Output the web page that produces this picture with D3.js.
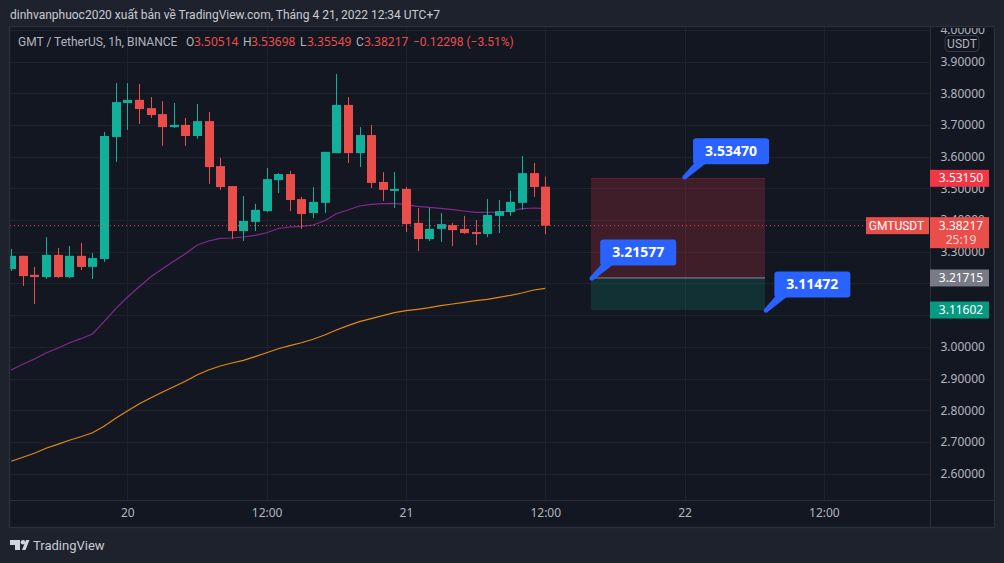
<!DOCTYPE html>
<html><head><meta charset="utf-8">
<script src="https://cdn.jsdelivr.net/npm/d3@7/dist/d3.min.js"></script>
<style>
html,body{margin:0;padding:0;background:#1e222d;overflow:hidden}
svg{display:block}
</style></head><body>
<svg id="c" width="1004" height="563" font-family='"Noto Sans",sans-serif'></svg>
<script>
const hours=[-10,-9,-8,-7,-6,-5,-4,-3,-2,-1,0,1,2,3,4,5,6,7,8,9,10,11,12,13,14,15,16,17,18,19,20,21,22,23,24,25,26,27,28,29,30,31,32,33,34,35,36];
const opens=[3.245,3.287,3.227,3.220,3.290,3.220,3.287,3.252,3.277,3.662,3.769,3.779,3.753,3.734,3.693,3.700,3.665,3.712,3.570,3.507,3.365,3.394,3.428,3.526,3.545,3.466,3.422,3.454,3.611,3.763,3.611,3.668,3.520,3.495,3.498,3.391,3.340,3.372,3.384,3.372,3.362,3.356,3.413,3.425,3.454,3.548,3.50514];
const highs=[3.309,3.287,3.252,3.346,3.312,3.318,3.328,3.296,3.678,3.832,3.832,3.829,3.788,3.775,3.769,3.722,3.766,3.741,3.596,3.507,3.476,3.451,3.564,3.548,3.555,3.473,3.504,3.615,3.861,3.788,3.693,3.700,3.551,3.551,3.504,3.438,3.438,3.422,3.391,3.413,3.400,3.466,3.463,3.492,3.602,3.580,3.53698];
const lows=[3.239,3.192,3.135,3.214,3.217,3.217,3.242,3.214,3.268,3.583,3.684,3.703,3.722,3.634,3.690,3.634,3.656,3.514,3.495,3.340,3.334,3.365,3.425,3.485,3.428,3.372,3.406,3.422,3.611,3.580,3.567,3.501,3.460,3.438,3.362,3.302,3.334,3.331,3.318,3.356,3.321,3.346,3.359,3.413,3.432,3.473,3.35549];
const closes=[3.287,3.223,3.220,3.290,3.220,3.287,3.252,3.280,3.665,3.772,3.779,3.750,3.731,3.693,3.700,3.665,3.712,3.567,3.504,3.365,3.397,3.432,3.529,3.545,3.463,3.419,3.457,3.615,3.763,3.611,3.668,3.517,3.495,3.498,3.387,3.340,3.372,3.387,3.368,3.359,3.356,3.416,3.428,3.457,3.548,3.504,3.38217];
const maFast=[2.9268,2.9448,2.9615,2.9804,2.9953,3.0120,3.0256,3.0404,3.0792,3.1202,3.1562,3.1886,3.2202,3.2454,3.2697,3.2937,3.3202,3.3338,3.3423,3.3432,3.3464,3.3517,3.3599,3.3732,3.3779,3.3801,3.3842,3.3978,3.4199,3.4315,3.4442,3.4495,3.4514,3.4527,3.4483,3.4432,3.4401,3.4369,3.4325,3.4284,3.4243,3.4243,3.4252,3.4284,3.4356,3.4379,3.4356];
const maSlow=[2.6388,2.6514,2.6640,2.6798,2.6924,2.7051,2.7164,2.7290,2.7492,2.7744,2.7975,2.8196,2.8385,2.8565,2.8741,2.8912,2.9110,2.9268,2.9394,2.9489,2.9574,2.9688,2.9814,2.9940,3.0035,3.0129,3.0237,3.0372,3.0530,3.0666,3.0792,3.0887,3.0981,3.1076,3.1139,3.1183,3.1234,3.1297,3.1350,3.1404,3.1454,3.1498,3.1562,3.1625,3.1697,3.1792,3.1846];
const priceTicks=[4.0,3.9,3.8,3.7,3.6,3.5,3.4,3.3,3.2,3.1,3.0,2.9,2.8,2.7,2.6];
const axisPriceTicks=[4.0,3.9,3.8,3.7,3.6,3.5,3.4,3.3,3.0,2.9,2.8,2.7,2.6];
const timeTicks=[0,12,24,36,48,60];
const timeLabels=["20","12:00","21","12:00","22","12:00"];
const lastPrice=3.38217, stopPrice=3.53150, entryPrice=3.21715, targetPrice=3.11602;
const callouts=[{h:48,p:3.53470,t:"3.53470"},{h:40,p:3.21577,t:"3.21577"},{h:55,p:3.11472,t:"3.11472"}];
const zoneStart=40, zoneEnd=55;
const headerText="dinhvanphuoc2020 xuất bản về TradingView.com, Tháng 4 21, 2022 12:34 UTC+7";

const L=10,R=930,T=27,B=500,FR=994,FB=527;
const TEAL="#10b09a",RED="#ea4e4a",GRID="#1e222c",BORDER="#2a2e39";
const x=d3.scaleLinear().domain([0,60]).range([127.3,823.9]);
const y=d3.scaleLinear().domain([3.9,2.6]).range([61.5,473.6]);
const svg=d3.select("#c");
const defs=svg.append("defs");
defs.append("clipPath").attr("id","plot").append("rect").attr("x",L).attr("y",T).attr("width",R-L).attr("height",B-T);
defs.append("clipPath").attr("id","axis").append("rect").attr("x",R).attr("y",T+1).attr("width",FR-R).attr("height",B-T);
svg.append("rect").attr("width",1004).attr("height",563).attr("fill","#1e222d");
svg.append("rect").attr("x",L).attr("y",T).attr("width",FR-L).attr("height",FB-T).attr("fill","#131722");

const plot=svg.append("g").attr("clip-path","url(#plot)");
plot.selectAll("line.h").data(priceTicks).join("line").attr("x1",L).attr("x2",R)
 .attr("y1",d=>Math.round(y(d))+.5).attr("y2",d=>Math.round(y(d))+.5).attr("stroke",GRID);
plot.selectAll("line.v").data(timeTicks).join("line").attr("y1",T).attr("y2",B)
 .attr("x1",d=>Math.round(x(d))+.5).attr("x2",d=>Math.round(x(d))+.5).attr("stroke",GRID);

// position tool zones
const zx0=Math.floor(x(zoneStart)), zx1=Math.floor(x(zoneEnd));
plot.append("rect").attr("x",zx0).attr("width",zx1-zx0)
 .attr("y",y(stopPrice)).attr("height",y(entryPrice)-y(stopPrice)).attr("fill","rgba(242,54,69,0.2)");
plot.append("line").attr("x1",zx0).attr("x2",zx1).attr("y1",y(stopPrice)).attr("y2",y(stopPrice)).attr("stroke","rgba(242,54,69,0.25)");
plot.append("rect").attr("x",zx0).attr("width",zx1-zx0)
 .attr("y",y(entryPrice)).attr("height",y(targetPrice)-y(entryPrice)).attr("fill","rgba(8,153,129,0.2)");
plot.append("line").attr("x1",zx0).attr("x2",zx1).attr("y1",y(entryPrice)).attr("y2",y(entryPrice)).attr("stroke","#8a8d98");

// moving averages
const ln=d3.line().x((d,i)=>x(hours[i])).y(d=>y(d));
plot.append("path").datum(maSlow).attr("d",ln).attr("fill","none").attr("stroke","#e08a10").attr("stroke-width",1.2);
plot.append("path").datum(maFast).attr("d",ln).attr("fill","none").attr("stroke","#86288f").attr("stroke-width",1.2);

// candles
const col=i=>closes[i]>=opens[i]?TEAL:RED;
plot.selectAll("line.w").data(hours).join("line")
 .attr("x1",d=>Math.round(x(d))+.5).attr("x2",d=>Math.round(x(d))+.5)
 .attr("y1",(d,i)=>y(highs[i])).attr("y2",(d,i)=>y(lows[i])).attr("stroke",(d,i)=>col(i));
plot.selectAll("rect.b").data(hours).join("rect")
 .attr("x",d=>Math.round(x(d))-4).attr("width",9)
 .attr("y",(d,i)=>y(Math.max(opens[i],closes[i])))
 .attr("height",(d,i)=>Math.max(2,Math.abs(y(opens[i])-y(closes[i]))))
 .attr("fill",(d,i)=>col(i));

// last price line
plot.append("line").attr("x1",L).attr("x2",866).attr("y1",y(lastPrice)).attr("y2",y(lastPrice))
 .attr("stroke",RED).attr("stroke-dasharray","1 3").attr("stroke-width",1);

// frame lines
svg.append("rect").attr("x",L-.5).attr("y",T-.5).attr("width",FR-L+1).attr("height",FB-T+1).attr("fill","none").attr("stroke",BORDER).attr("stroke-width",1.5);
svg.append("line").attr("x1",R+.5).attr("x2",R+.5).attr("y1",T).attr("y2",FB).attr("stroke",BORDER);
svg.append("line").attr("x1",L).attr("x2",FR).attr("y1",B+.5).attr("y2",B+.5).attr("stroke",BORDER);

// axes
const yAxis=d3.axisRight(y).tickValues(axisPriceTicks).tickFormat(d3.format(".5f")).tickSize(0).tickPadding(0);
const ya=svg.append("g").attr("clip-path","url(#axis)").append("g").attr("transform",`translate(940.5,0)`).call(yAxis);
ya.select(".domain").remove();
ya.selectAll("text").attr("font-size",12).attr("font-family",'"Noto Sans",sans-serif').attr("fill","#b2b5be");
const xAxis=d3.axisBottom(x).tickValues(timeTicks).tickFormat((d,i)=>timeLabels[i]).tickSize(0).tickPadding(0);
const xa=svg.append("g").attr("transform",`translate(0,508)`).call(xAxis);
xa.select(".domain").remove();
xa.selectAll("text").attr("font-size",12).attr("font-family",'"Noto Sans",sans-serif').attr("fill","#b2b5be");

// USDT badge
svg.append("rect").attr("x",945).attr("y",35.5).attr("width",34).attr("height",16).attr("rx",4).attr("fill","#131722").attr("stroke","#363a45");
svg.append("text").attr("x",962).attr("y",47.5).attr("text-anchor","middle").attr("font-size",12).attr("font-family","Roboto").attr("fill","#b2b5be").text("USDT");

// price tags
function tag(xx,yy,w,h,fill,t,anchor,tx,ty,fam){
 svg.append("rect").attr("x",xx).attr("y",yy).attr("width",w).attr("height",h).attr("fill",fill);
 svg.append("text").attr("x",tx).attr("y",ty).attr("text-anchor",anchor).attr("font-size",12).attr("font-family",fam||null).attr("fill","#fff").text(t);
}
const f5=d3.format(".5f");
tag(930,y(stopPrice)-8.5,59,17,"#f23645",f5(stopPrice),"middle",961,y(stopPrice)+4);
tag(866,y(lastPrice)-8.5,63,17,RED,"GMTUSDT","middle",896.5,y(lastPrice)+4,"Roboto");
tag(930,y(lastPrice)-8.5,59,31,RED,f5(lastPrice),"middle",961,y(lastPrice)+4);
svg.append("text").attr("x",961).attr("y",y(lastPrice)+18).attr("text-anchor","middle").attr("font-size",12).attr("fill","#fbd5d4").text("25:19");
tag(930,y(entryPrice)-8.5,59,17,"#787b86",f5(entryPrice),"middle",961,y(entryPrice)+4);
tag(930,y(targetPrice)-8.5,59,17,"#089981",f5(targetPrice),"middle",961,y(targetPrice)+4);

// callouts
const g=svg.append("g");
callouts.forEach(c=>{
 const px=x(c.h), py=y(c.p), rx=px+8.5, ry=py-39;
 g.append("path").attr("d",`M${px-2},${py-1} L${px+1},${py+2} L${rx+13},${ry+25} L${rx+1},${ry+25} Z`).attr("fill","#2962ff");
 g.append("rect").attr("x",rx).attr("y",ry).attr("width",76).attr("height",26).attr("rx",3).attr("fill","#2962ff");
 g.append("circle").attr("cx",px).attr("cy",py).attr("r",2.2).attr("fill","#2962ff");
 g.append("text").attr("x",rx+38).attr("y",ry+17.5).attr("text-anchor","middle").attr("font-size",14).attr("font-weight",700).attr("fill","#fff").text(c.t);
});

// header and legend
svg.append("text").attr("x",10).attr("y",19).attr("font-size",12).attr("font-family","Roboto").attr("fill","#c9cbd2").text(headerText);
const leg=[[18,"GMT / TetherUS, 1h, BINANCE","#b2b5be","Roboto"],[186,"O","#b2b5be","Roboto"],[194,"3.50514",RED],[243,"H","#b2b5be","Roboto"],[251,"3.53698",RED],[300,"L","#b2b5be","Roboto"],[307,"3.35549",RED],[356,"C","#b2b5be","Roboto"],[364,"3.38217",RED],[413,"−0.12298 (−3.51%)",RED,"Roboto"]];
svg.selectAll("text.l").data(leg).join("text").attr("x",d=>d[0]).attr("y",46).attr("font-size",12).attr("font-family",d=>d[3]||null).attr("fill",d=>d[2]).text(d=>d[1]);

// logo
svg.append("path").attr("d","M10 540H20V550H15V545H10Z M26 540H29.5L25.5 550H22Z").attr("fill","#d1d4dc");
svg.append("circle").attr("cx",23).attr("cy",542.3).attr("r",2.3).attr("fill","#d1d4dc");
svg.append("text").attr("x",33).attr("y",550).attr("font-size",13).attr("font-family","Roboto").attr("fill","#c9cbd2").text("TradingView");
</script></body></html>
